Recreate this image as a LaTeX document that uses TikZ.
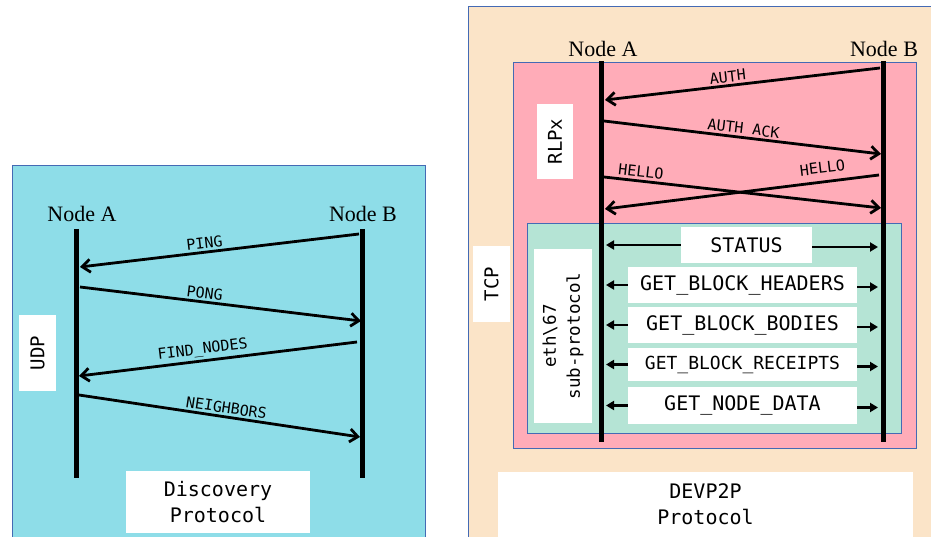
\documentclass[tikz,border=0pt]{standalone}
\usepackage{fontspec}
\setmainfont{Liberation Serif}
\newfontfamily\mono{DejaVu Sans Mono}
\usetikzlibrary{arrows.meta}
\definecolor{discbg}{RGB}{142,221,232}
\definecolor{devbg}{RGB}{251,228,200}
\definecolor{rlpxbg}{RGB}{255,172,184}
\definecolor{ethbg}{RGB}{181,228,213}
\definecolor{frame}{RGB}{68,106,180}

\begin{document}
\begin{tikzpicture}[x=1pt,y=-1pt,
  panel/.style={draw=frame, line width=0.8pt},
  tag/.style={fill=white, inner sep=0pt, align=center, font=\mono\fontsize{19}{23}\selectfont},
  vtag/.style={tag, rotate=90},
  peer/.style={font=\fontsize{22}{26}\selectfont, inner sep=0pt},
  life/.style={line width=5pt},
  msg/.style={line width=2.8pt, -{Straight Barb[length=8pt,width=13pt]}},
  lbl/.style={sloped, above, inner sep=2pt, font=\mono\fontsize{15}{18}\selectfont},
  cmd/.style={fill=white, inner sep=0pt, minimum width=229pt, font=\mono\fontsize{20}{24}\selectfont},
  rpc/.style={line width=2.5pt, -{Triangle[length=8pt,width=9pt]}, shorten >=5pt},
]
\useasboundingbox (0,0) rectangle (931,537);

% ---------------- discovery protocol (UDP) ----------------
\path[panel, fill=discbg] (12,165) rectangle (425,560);

\node[peer] (nA1) at (82,214) {Node A};
\node[peer] (nB1) at (363,214) {Node B};
\coordinate (a1t) at (76,229);  \coordinate (a1b) at (76,478);
\coordinate (b1t) at (362,229); \coordinate (b1b) at (362,478);
\draw[life] (a1t) -- (a1b);
\draw[life] (b1t) -- (b1b);

\coordinate (pingS) at (359,234); \coordinate (pingE) at (80,267);
\coordinate (pongS) at (80,287);  \coordinate (pongE) at (361,321);
\coordinate (findS) at (357,342); \coordinate (findE) at (79,376);
\coordinate (neiS)  at (79,395);  \coordinate (neiE)  at (360,437);
\draw[msg] (pingS) -- node[lbl, pos=.55] {PING} (pingE);
\draw[msg] (pongS) -- node[lbl, pos=.44] {PONG} (pongE);
\draw[msg] (findS) -- node[lbl, pos=.55] {FIND\_NODES} (findE);
\draw[msg] (neiS)  -- node[lbl, pos=.52] {NEIGHBORS} (neiE);

\node[vtag, minimum width=76pt, minimum height=37pt] (udp) at (37.5,353) {UDP};
\node[tag, minimum width=184pt, minimum height=62pt, font=\mono\fontsize{20}{26}\selectfont]
  (disc) at (218,502) {Discovery\\Protocol};

% ---------------- devp2p stack (TCP / RLPx / eth) ----------------
\path[panel, fill=devbg]  (468,6) rectangle (940,560);
\path[panel, fill=rlpxbg] (513,62) rectangle (916,448);
\path[panel, fill=ethbg]  (527,223) rectangle (901,433);

\node[peer] (nA2) at (603,49) {Node A};
\node[peer] (nB2) at (884,49) {Node B};
\coordinate (a2t) at (601,61);  \coordinate (a2b) at (601,442);
\coordinate (b2t) at (883,61);  \coordinate (b2b) at (883,442);
\draw[life] (a2t) -- (a2b);
\draw[life] (b2t) -- (b2b);

\coordinate (authS) at (880,68);  \coordinate (authE) at (605,100);
\coordinate (ackS)  at (604,121); \coordinate (ackE)  at (881,154);
\coordinate (helAS) at (604,177); \coordinate (helAE) at (881,208);
\coordinate (helBS) at (879,175); \coordinate (helBE) at (605,209);
\draw[msg] (authS) -- node[lbl, pos=.55] {AUTH} (authE);
\draw[msg] (ackS)  -- node[lbl, pos=.5] {AUTH ACK} (ackE);
\draw[msg] (helAS) -- node[lbl, pos=.13] {HELLO} (helAE);
\draw[msg] (helBS) -- node[lbl, pos=.2, above=5pt] {HELLO} (helBE);

\node[vtag, minimum width=75pt, minimum height=36pt] (rlpx) at (555,141.5) {RLPx};
\node[vtag, minimum width=76pt, minimum height=37pt] (tcp) at (491.5,284) {TCP};
\node[vtag, minimum width=174pt, minimum height=58pt, font=\mono\fontsize{17.5}{24}\selectfont]
  (eth) at (563,336) {eth\textbackslash67\\sub-protocol};

\node[cmd, minimum width=131pt, minimum height=36pt] (stat) at (746.5,245) {STATUS};
\node[cmd, minimum height=36pt] (hdr) at (742.5,285) {GET\_BLOCK\_HEADERS};
\node[cmd, minimum height=36pt] (bod) at (742.5,325) {GET\_BLOCK\_BODIES};
\node[cmd, minimum height=33pt, font=\mono\fontsize{18}{22}\selectfont] (rec) at (742.5,364.5) {GET\_BLOCK\_RECEIPTS};
\node[cmd, minimum height=37pt] (nod) at (742.5,405.5) {GET\_NODE\_DATA};

\foreach \m in {stat,hdr,bod,rec,nod}{
  \draw[rpc] (\m.west) -- (\m.west -| a2t);
  \draw[rpc] ([yshift=-2pt]\m.east) -- ([yshift=-2pt]\m.east -| b2t);
}

\node[tag, minimum width=415pt, minimum height=65pt, font=\mono\fontsize{20}{26}\selectfont]
  (dev) at (705.5,504.5) {DEVP2P\\Protocol};
\end{tikzpicture}
\end{document}
